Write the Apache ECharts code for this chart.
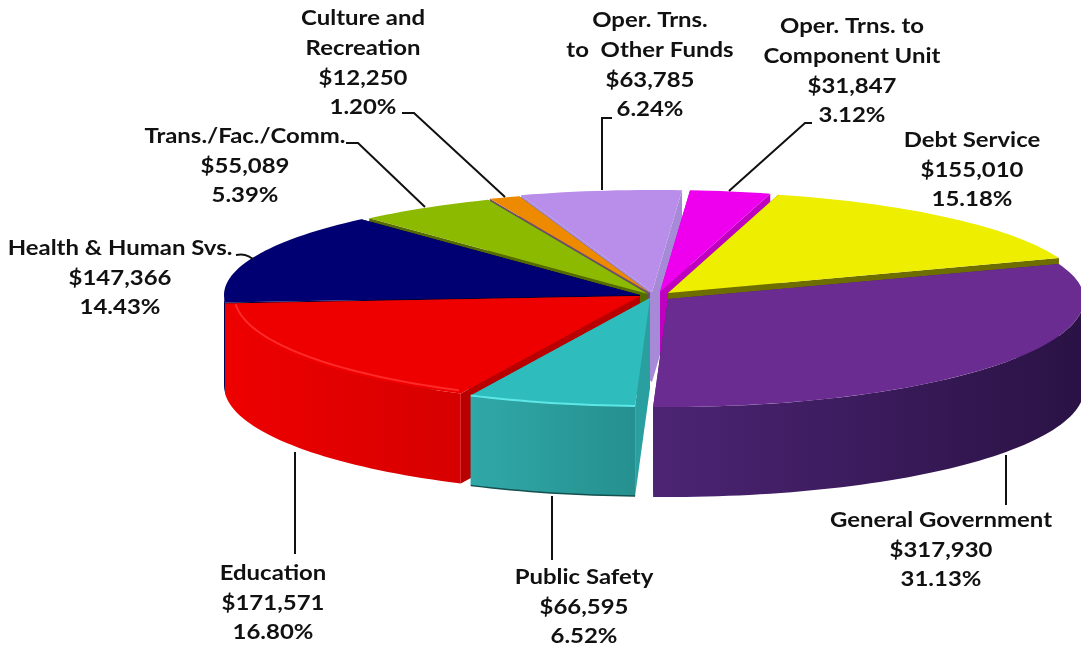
<!DOCTYPE html>
<html>
<head>
<meta charset="utf-8">
<script src="https://cdn.jsdelivr.net/npm/echarts@6/dist/echarts.min.js"></script>
<style>html,body{margin:0;padding:0;background:#fff}#c{width:1081px;height:649px}</style>
</head>
<body>
<div id="c"></div>
<script>
// DATA (counter-clockwise from the Debt Service slice)
const categories = ['Debt Service','Oper. Trns. to\nComponent Unit','Oper. Trns.\nto  Other Funds','Culture and\nRecreation','Trans./Fac./Comm.','Health & Human Svs.','Education','Public Safety','General Government'];
const amounts = [155010,31847,63785,12250,55089,147366,171571,66595,317930];
const amountLabels = ['$155,010','$31,847','$63,785','$12,250','$55,089','$147,366','$171,571','$66,595','$317,930'];
const shareLabels = ['15.18%','3.12%','6.24%','1.20%','5.39%','14.43%','16.80%','6.52%','31.13%'];

// STYLE / LAYOUT
const topColors  = ['#eeee00','#ee00ee','#b98eea','#ee8a00','#8cba00','#000072','#ee0000','#2ebcbc','#6a2c91'];
const cutColors  = ['#6e6e00','#c000c0','#a68ad8','#6b4f70','#556a00','#000038','#b80000','#2a9f9f','#4a2370'];
const wallLeft   = ['#c0c000','#c000c0','#9a78c8','#c07000','#6a8c00','#000050','#ee0000','#30a8a8','#4c2474'];
const wallRight  = ['#c0c000','#c000c0','#9a78c8','#c07000','#6a8c00','#000050','#d60000','#25908f','#2a1244'];
const hubs = [[668,293],[660,292],[652,292],[650,293],[648,294],[640,295],[640,296],[650,298],[668,299]];
const paintRank = [5,4,0,1,2,3,6,8,7];
const labelCenters = [[972,170],[852,71],[650,65],[363,63],[245,166],[120,278],[273,603],[584,607],[941,550]];
const leaders = [
  null,
  [[812,123],[805,123],[729,191]],
  [[612,118],[602,118],[602,190]],
  [[402,113],[414,113],[505,197]],
  [[346,143],[358,143],[425,207]],
  [[236,255],[245,255],[253,259]],
  [[295,452],[295,554]],
  [[552,496],[552,560]],
  [[1006,455],[1006,505]]
];
const startDeg = 20, rx = 416, ryFront = 108, ryBack = 102, depth = 90, labelStretch = 1.14;

const total = amounts.reduce((a,b)=>a+b,0);
const spans = [];
amounts.reduce((acc,v)=>{const e=acc+v/total*360;spans.push([acc,e]);return e;},startDeg);

function pt(hub,deg,k){
  k = k===undefined?1:k;
  const r=deg*Math.PI/180, s=Math.sin(r);
  return [hub[0]+rx*k*Math.cos(r), hub[1]-s*(s>0?ryBack:ryFront)*k];
}
function arc(hub,a,b,k){
  const n=Math.max(2,Math.ceil((b-a)/1.5)),out=[];
  for(let i=0;i<=n;i++) out.push(pt(hub,a+(b-a)*i/n,k));
  return out;
}
const down=p=>[p[0],p[1]+depth];

function renderItem(params,api){
  const i=params.dataIndex, hub=hubs[i], a=spans[i][0], b=spans[i][1], z=paintRank[i]*10+10;
  const kids=[];
  const pa=pt(hub,a), pb=pt(hub,b);
  // cut faces
  [pa,pb].forEach(p=>kids.push({type:'polygon',z2:z,silent:true,
    shape:{points:[hub,p,down(p),down(hub)]},style:{fill:cutColors[i]}}));
  // outer wall: the part of the rim that faces the viewer
  const ranges=[[Math.max(a,180),Math.min(b,360)],[Math.max(a,540),Math.min(b,720)]];
  ranges.forEach(r=>{
    if(r[1]>r[0]){
      const rim=arc(hub,r[0],r[1]);
      const poly=rim.concat(rim.slice().reverse().map(down));
      kids.push({type:'polygon',z2:z+1,silent:true,shape:{points:poly},
        style:{fill:new echarts.graphic.LinearGradient(0,0,1,0,[
          {offset:0,color:wallLeft[i]},{offset:1,color:wallRight[i]}])}});
      if(i===7){
        kids.push({type:'polyline',z2:z+2,silent:true,shape:{points:rim.map(down)},
          style:{stroke:'#14504f',lineWidth:1.5,fill:'none'}});
      }
    }
  });
  // top face
  kids.push({type:'polygon',z2:z+3,silent:true,
    shape:{points:[hub].concat(arc(hub,a,b))},style:{fill:topColors[i]}});
  // bevel highlights on the two front slices
  if(i===6) kids.push({type:'polyline',z2:z+4,silent:true,
    shape:{points:arc(hub,a+0.5,b-1,0.975)},style:{stroke:'#ff2a2a',lineWidth:2,fill:'none'}});
  if(i===7) kids.push({type:'polyline',z2:z+4,silent:true,
    shape:{points:arc(hub,a,b,1)},style:{stroke:'#5fe6e6',lineWidth:2,fill:'none'}});
  // leader
  if(leaders[i]) kids.push({type:'polyline',z2:200,silent:true,
    shape:{points:leaders[i],smooth:i===5?0.4:0},style:{stroke:'#111',lineWidth:2,fill:'none'}});
  // label
  kids.push({type:'text',z2:210,silent:true,
    x:labelCenters[i][0],y:labelCenters[i][1],scaleX:labelStretch,
    style:{text:categories[i]+'\n'+amountLabels[i]+'\n'+shareLabels[i],
      x:0,y:0,align:'center',verticalAlign:'middle',
      font:'bold 21px Lato',lineHeight:29.7,fill:'#111'}});
  return {type:'group',children:kids};
}

const chart=echarts.init(document.getElementById('c'),null,{renderer:'canvas'});
chart.setOption({
  animation:false,
  backgroundColor:'#fff',
  series:[{type:'custom',coordinateSystem:'none',silent:true,clip:false,
    data:amounts.map((v,i)=>({name:categories[i],value:[i,v]})),
    renderItem:renderItem}]
});
</script>
</body>
</html>
